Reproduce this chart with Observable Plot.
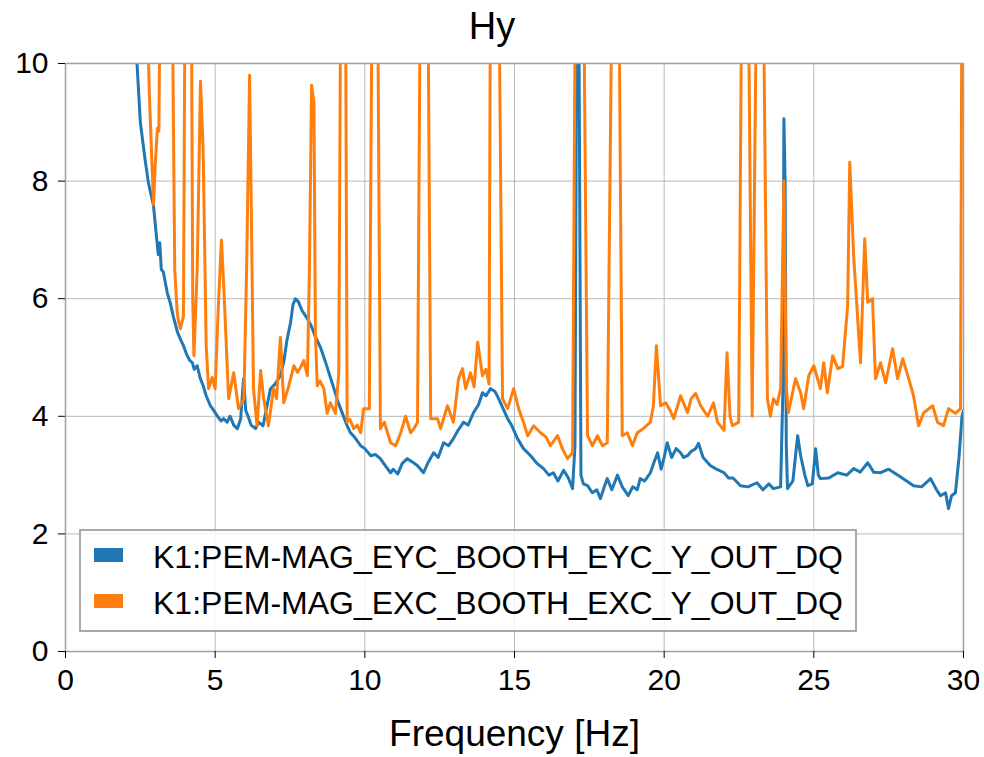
<!DOCTYPE html>
<html><head><meta charset="utf-8">
<script src="https://cdn.jsdelivr.net/npm/d3@7"></script>
<script src="https://cdn.jsdelivr.net/npm/@observablehq/plot@0.6"></script>
<style>
body{margin:0;background:#fff;font-family:"Liberation Sans",Arial,sans-serif;color:#000;}
#wrap{position:relative;width:984px;height:757px;overflow:hidden;}
#title{height:50px;line-height:53px;font-size:38px;text-align:center;}
#chart svg{overflow:visible;}
.legbox{position:absolute;left:79px;top:529px;width:778px;height:103px;box-sizing:border-box;border:2px solid #a8a8a8;background:rgba(255,255,255,0.8);}
.sw{position:absolute;left:94px;width:29px;height:14px;}
.lt{position:absolute;left:153px;font-size:32px;line-height:32px;white-space:nowrap;}
</style></head><body>
<div id="wrap">
<div id="title">Hy</div>
<div id="chart"></div>
<div class="legbox"></div>
<div class="sw" id="sw0" style="top:548px"></div><div class="lt" id="lt0" style="top:541px"></div>
<div class="sw" id="sw1" style="top:594px"></div><div class="lt" id="lt1" style="top:587px"></div>
</div>
<script>
const seriesNames = ["K1:PEM-MAG_EYC_BOOTH_EYC_Y_OUT_DQ", "K1:PEM-MAG_EXC_BOOTH_EXC_Y_OUT_DQ"];
const seriesColors = ["#1f77b4", "#ff7f0e"];
const xTicks = [0, 5, 10, 15, 20, 25, 30];
const yTicks = [0, 2, 4, 6, 8, 10];

const blueFreq = [2.3,2.5,2.65,2.77,2.94,3.05,3.1,3.15,3.2,3.27,3.4,3.5,3.6,3.74,3.85,3.94,4.05,4.15,4.24,4.3,4.4,4.5,4.6,4.7,4.84,4.95,5.08,5.2,5.28,5.4,5.5,5.62,5.74,5.85,5.95,6.02,6.1,6.2,6.35,6.45,6.6,6.7,6.85,7.0,7.18,7.3,7.4,7.52,7.6,7.68,7.78,7.9,8.08,8.2,8.35,8.52,8.7,8.95,9.1,9.25,9.4,9.52,9.65,9.86,10.0,10.2,10.35,10.52,10.7,10.86,10.95,11.1,11.25,11.42,11.6,11.76,11.96,12.1,12.3,12.45,12.63,12.8,12.96,13.1,13.3,13.45,13.63,13.8,13.93,14.05,14.2,14.35,14.47,14.6,14.77,14.9,15.1,15.3,15.54,15.75,15.97,16.15,16.3,16.45,16.64,16.8,16.94,17.02,17.08,17.15,17.22,17.3,17.44,17.6,17.75,17.87,18.0,18.1,18.25,18.44,18.6,18.8,18.95,19.1,19.2,19.35,19.54,19.65,19.78,19.9,20.0,20.1,20.25,20.4,20.55,20.65,20.78,20.9,21.05,21.15,21.3,21.55,21.75,22.0,22.15,22.3,22.55,22.8,23.1,23.3,23.5,23.65,23.89,23.97,24.0,24.04,24.08,24.12,24.3,24.46,24.56,24.7,24.8,24.95,25.06,25.15,25.22,25.5,25.8,26.1,26.33,26.55,26.8,27.0,27.23,27.5,27.8,28.1,28.33,28.6,28.9,29.1,29.23,29.4,29.5,29.6,29.73,29.85,29.95,30.0];
const blueVal = [10.8,9.0,8.4,7.97,7.58,7.0,6.75,6.95,6.5,6.45,6.1,5.93,5.7,5.43,5.3,5.2,5.05,4.95,4.91,4.8,4.86,4.65,4.52,4.35,4.18,4.1,4.0,3.92,3.96,3.9,4.0,3.85,3.79,3.95,4.64,4.1,4.0,3.85,3.79,3.9,3.84,4.1,4.47,4.55,4.69,4.95,5.3,5.6,5.9,6.0,5.95,5.8,5.66,5.55,5.35,5.17,4.9,4.5,4.25,4.05,3.85,3.72,3.65,3.5,3.45,3.33,3.35,3.28,3.15,3.04,3.1,3.02,3.2,3.28,3.22,3.16,3.04,3.2,3.38,3.3,3.55,3.5,3.62,3.75,3.9,3.85,4.06,4.2,4.4,4.35,4.47,4.42,4.3,4.15,3.96,3.85,3.62,3.45,3.33,3.2,3.11,3.0,3.04,2.9,3.08,2.95,2.77,3.5,11,11,3.0,2.85,2.82,2.7,2.75,2.6,2.8,2.94,2.75,3.0,2.8,2.65,2.8,2.75,2.94,2.9,3.04,3.2,3.38,3.1,3.3,3.55,3.3,3.45,3.38,3.3,3.33,3.4,3.45,3.54,3.3,3.16,3.1,3.04,2.95,2.95,2.82,2.8,2.87,2.75,2.85,2.77,2.8,4.5,9.06,8.0,3.5,2.77,2.9,3.67,3.33,3.0,2.82,2.85,3.45,3.0,2.94,2.95,3.04,3.0,3.11,3.05,3.21,3.05,3.04,3.1,3.0,2.9,2.82,2.8,2.94,2.75,2.65,2.7,2.43,2.65,2.7,3.3,4.0,4.1];

const orangeFreq = [2.5,2.68,2.8,2.94,3.0,3.07,3.12,3.17,3.5,3.57,3.65,3.73,3.78,3.84,3.94,4.0,4.2,4.25,4.29,4.4,4.51,4.6,4.7,4.78,4.9,5.0,5.1,5.21,5.29,5.45,5.62,5.78,5.96,6.05,6.15,6.22,6.28,6.4,6.52,6.62,6.78,6.95,7.05,7.18,7.29,7.45,7.63,7.75,7.85,7.96,8.08,8.15,8.22,8.3,8.35,8.41,8.5,8.63,8.74,8.85,9.02,9.13,9.2,9.35,9.41,9.5,9.63,9.75,9.86,9.96,10.15,10.25,10.42,10.52,10.65,10.86,11.03,11.2,11.36,11.53,11.65,11.76,11.86,12.1,12.2,12.43,12.53,12.76,12.96,13.13,13.26,13.37,13.53,13.65,13.77,13.93,14.05,14.15,14.2,14.47,14.6,14.77,14.97,15.14,15.3,15.44,15.64,15.87,16.05,16.2,16.44,16.6,16.77,16.94,17.04,17.3,17.44,17.6,17.77,17.94,18.1,18.27,18.48,18.6,18.77,18.94,19.1,19.3,19.54,19.64,19.74,19.88,20.05,20.2,20.32,20.55,20.78,20.9,21.05,21.22,21.45,21.65,21.78,22.0,22.1,22.2,22.28,22.49,22.6,22.8,22.94,23.1,23.3,23.45,23.55,23.65,23.77,23.89,24.0,24.08,24.15,24.39,24.56,24.66,24.83,25.0,25.22,25.33,25.45,25.63,25.8,25.96,26.13,26.2,26.33,26.56,26.7,26.8,26.96,27.06,27.23,27.4,27.63,27.8,27.97,28.17,28.33,28.5,28.67,28.97,29.13,29.33,29.5,29.73,29.9,29.95,30.0];
const orangeVal = [12,12,9.5,7.6,8.3,8.9,8.85,12,12,11,6.5,5.77,5.6,5.49,5.7,12,12,6.0,5.03,6.5,9.7,8.5,5.2,4.47,4.66,4.47,5.8,7.0,6.17,4.3,4.74,4.13,4.3,6.5,9.8,7.0,4.47,3.84,4.78,4.3,3.84,4.47,4.3,5.34,4.23,4.5,4.86,4.75,4.83,4.95,4.69,6.5,9.63,9.34,5.37,4.52,4.6,4.47,4.05,4.23,4.05,4.74,12,12,3.9,3.95,3.79,3.85,3.72,4.13,4.13,12,12,3.79,3.9,3.55,3.5,3.72,4.0,3.72,3.8,3.9,12,12,3.96,3.96,3.79,4.18,3.9,4.64,4.81,4.47,4.74,4.5,5.26,4.69,4.8,4.55,12,12,4.3,4.13,4.47,4.13,3.9,3.67,3.84,3.72,3.65,3.5,3.67,3.45,3.28,3.38,12,12,3.67,3.5,3.67,3.5,3.55,12,12,3.67,3.72,3.5,3.72,3.79,3.9,4.18,5.2,4.18,4.23,4.1,3.96,4.35,4.06,4.3,4.39,4.18,4.0,4.23,3.9,3.76,5.08,4.0,3.84,3.9,12,12,4.0,12,12,4.3,4.0,4.3,4.2,4.47,8.0,4.5,4.06,4.64,4.4,4.13,4.69,4.86,4.47,4.91,4.4,5.03,4.81,4.85,5.88,8.32,6.73,4.91,7.02,5.94,6.0,4.64,4.91,4.57,5.15,4.64,4.98,4.64,4.35,3.84,4.06,4.18,3.9,3.84,4.13,4.05,4.13,12,12];

const blue = blueFreq.map((f, i) => ({f, v: blueVal[i]}));
const orange = orangeFreq.map((f, i) => ({f, v: orangeVal[i]}));
const fmt = d3.format("d");

const chart = Plot.plot({
  width: 984, height: 707,
  marginTop: 13, marginBottom: 106, marginLeft: 65, marginRight: 21,
  style: {fontFamily: "Liberation Sans, Arial, sans-serif", fontSize: "30px", color: "#000", background: "#fff", overflow: "visible"},
  x: {domain: [0, 30]},
  y: {domain: [0, 10]},
  marks: [
    Plot.gridX(xTicks, {stroke: "#b8b8b8", strokeOpacity: 1, strokeWidth: 1}),
    Plot.gridY(yTicks, {stroke: "#b8b8b8", strokeOpacity: 1, strokeWidth: 1}),
    Plot.line(blue, {x: "f", y: "v", stroke: seriesColors[0], strokeWidth: 3, clip: true}),
    Plot.line(orange, {x: "f", y: "v", stroke: seriesColors[1], strokeWidth: 3, clip: true}),
    Plot.frame({stroke: "#a0a0a0", strokeWidth: 1.5}),
    Plot.axisX(xTicks, {tickSize: 7, tickPadding: 10, fontSize: 30, tickFormat: fmt, label: null}),
    Plot.axisX([], {tickSize: 0, fontSize: 37, label: "Frequency [Hz]", labelAnchor: "center", labelOffset: 94, labelArrow: "none"}),
    Plot.axisY(yTicks, {tickSize: 7, tickPadding: 10, fontSize: 30, tickFormat: fmt, label: null})
  ]
});
document.getElementById("chart").appendChild(chart);
for (let i = 0; i < 2; i++) {
  document.getElementById("sw" + i).style.background = seriesColors[i];
  document.getElementById("lt" + i).textContent = seriesNames[i];
}
</script>
</body></html>
